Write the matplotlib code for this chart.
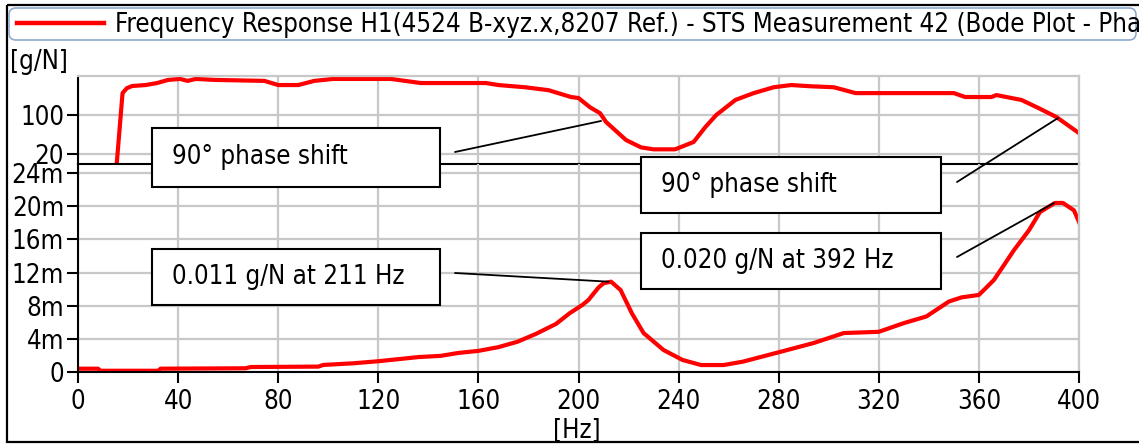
import matplotlib
matplotlib.use('Agg')
import matplotlib.pyplot as plt
from matplotlib import font_manager
from matplotlib.patches import Rectangle, FancyBboxPatch, ConnectionPatch
from matplotlib.lines import Line2D
from matplotlib.transforms import Affine2D

# phase curve (top panel)
phase_hz = [15.5, 17.8, 19.5, 21.6, 27, 31.6, 36, 40.8, 43.8, 47, 54.6, 74.5, 80, 88,
            94.4, 102, 125, 137, 163, 168, 178.6, 188, 197, 200, 204.6, 208.6, 211,
            219, 225, 230, 238.6, 246, 250.6, 255, 262.7, 270, 278, 285, 292.7, 302,
            310.7, 350, 354.5, 365, 367, 377, 384, 391, 399.5]
phase_deg = [2, 145, 155, 159.5, 161.5, 165.6, 172, 174, 170, 174, 172, 170, 161.5, 161.5,
             170, 174, 174, 165.6, 165.6, 161.5, 157, 151, 137, 135, 116, 104, 86,
             49, 34, 30, 30, 45, 75, 100, 131, 145, 157, 161.5, 159, 157,
             145, 145, 137, 137, 141, 131, 114, 96, 65]

# magnitude curve (bottom panel) in g/N
mag_hz = [0, 8, 9, 32, 33, 67, 69, 96, 98, 110, 120, 128, 136, 145, 152, 160, 168,
          175.6, 183, 191, 196.5, 201.6, 204, 208, 210, 213, 216.8, 221.3, 226, 234,
          241.6, 249, 258, 265.7, 279, 294, 306, 320, 330, 339, 348, 353, 360, 366,
          374, 380, 384.4, 390.4, 393.6, 398, 400]
mag_m = [0.4, 0.4, 0.15, 0.15, 0.4, 0.45, 0.6, 0.65, 0.85, 1.05, 1.3, 1.55, 1.8, 1.95,
         2.3, 2.55, 3.0, 3.65, 4.6, 5.8, 7.1, 8.1, 8.7, 10.2, 10.7, 10.9, 9.9, 7.1,
         4.7, 2.65, 1.45, 0.84, 0.84, 1.25, 2.3, 3.5, 4.7, 4.85, 5.9, 6.7, 8.5, 9.0,
         9.3, 11.1, 14.7, 17.1, 19.3, 20.4, 20.4, 19.5, 18.1]
mag = [v / 1000 for v in mag_m]

x_ticks = list(range(0, 401, 40))
phase_ticks = [20, 100]
mag_ticks = [0, 0.004, 0.008, 0.012, 0.016, 0.020, 0.024]
mag_labels = ['0', '4m', '8m', '12m', '16m', '20m', '24m']

legend_text = 'Frequency Response H1(4524 B-xyz.x,8207 Ref.) - STS Measurement 42 (Bode Plot - Pha'

# (text, axis, hz, value, box left/top/right/bottom in px, line start px)
notes = [
    ('90° phase shift', 'phase', 209, 88, (152, 128, 440, 187), (455, 152)),
    ('90° phase shift', 'phase', 391.6, 94, (641, 157, 941, 213), (957, 182)),
    ('0.011 g/N at 211 Hz', 'mag', 212, 0.0109, (152, 249, 440, 305), (455, 273)),
    ('0.020 g/N at 392 Hz', 'mag', 390, 0.0204, (641, 233, 941, 289), (957, 257)),
]

# font: condensed DejaVu is closest to the original if present
cond = font_manager.findfont(font_manager.FontProperties(family='DejaVu Sans', stretch='condensed'))
if 'Condensed' in cond:
    plt.rcParams['font.stretch'] = 'condensed'
    fs = 18.5
else:
    fs = 16.5
plt.rcParams['font.family'] = ['DejaVu Sans']

W, H = 1139, 444
fig = plt.figure(figsize=(W / 100, H / 100), dpi=100)
# pixel coords measured from the top-left corner
pix = Affine2D().scale(1, -1).translate(0, H).scale(1 / 100) + fig.dpi_scale_trans

left, right = 78, 1079
ax_ph = fig.add_axes([left / W, 1 - 164 / H, (right - left) / W, (164 - 76) / H])
ax_mag = fig.add_axes([left / W, 1 - 372 / H, (right - left) / W, (372 - 164) / H])

grid_c = '#c8c8c8'
for ax in (ax_ph, ax_mag):
    ax.set_facecolor('none')
    ax.set_xlim(0, 400)
    ax.set_xticks(x_ticks)
    ax.grid(True, color=grid_c, lw=1.6)
    ax.set_axisbelow(True)
    ax.spines['left'].set_color('black')
    ax.spines['left'].set_linewidth(1.5)
    ax.spines['bottom'].set_color('black')
    ax.spines['bottom'].set_linewidth(1.5)
    ax.spines['right'].set_color(grid_c)
    ax.spines['right'].set_linewidth(1.6)
    ax.tick_params(axis='both', direction='out', length=8, width=1.5,
                   labelsize=fs, pad=2, colors='black')

ax_ph.plot(phase_hz, phase_deg, color='red', lw=3, solid_joinstyle='round')
ax_ph.set_ylim(0, 180)
ax_ph.set_yticks(phase_ticks)
ax_ph.spines['top'].set_color(grid_c)
ax_ph.spines['top'].set_linewidth(1.6)
ax_ph.tick_params(axis='x', length=0, labelbottom=False)

ax_mag.plot(mag_hz, mag, color='red', lw=3, solid_joinstyle='round')
ax_mag.set_ylim(0, 0.0251)
ax_mag.set_yticks(mag_ticks)
ax_mag.set_yticklabels(mag_labels)
ax_mag.spines['top'].set_visible(False)
ax_mag.tick_params(axis='x', pad=4)

# outer frame
fig.add_artist(Rectangle((7, 5), 1140, 437.5, transform=pix, fill=False,
                         edgecolor='black', lw=1.6))

# legend
leg = FancyBboxPatch((9, 8), 1127, 32, boxstyle='round,pad=0,rounding_size=7',
                     transform=pix, facecolor='white', edgecolor='#8eaad0', lw=1.2)
fig.add_artist(leg)
fig.add_artist(Line2D([17, 104], [23, 23], transform=pix, color='red', lw=3.2))
t = fig.text(115, 25, legend_text, transform=pix, fontsize=fs, va='center', ha='left')
t.set_clip_path(leg)

fig.text(10, 62, '[g/N]', transform=pix, fontsize=fs, va='center', ha='left')
fig.text(577, 431, '[Hz]', transform=pix, fontsize=fs, va='center', ha='center')

# annotation boxes with leader lines
for label, which, hz, val, box, start in notes:
    ax = ax_ph if which == 'phase' else ax_mag
    x0, y0, x1, y1 = box
    con = ConnectionPatch(xyA=start, coordsA=pix, xyB=(hz, val), coordsB=ax.transData,
                          color='black', lw=1.3)
    fig.add_artist(con)
    fig.add_artist(Rectangle((x0, y0), x1 - x0, y1 - y0, transform=pix,
                             facecolor='white', edgecolor='black', lw=1.5, zorder=3))
    fig.text(x0 + 20, (y0 + y1) / 2, label, transform=pix, fontsize=fs,
             va='center', ha='left', zorder=4)

fig.savefig('out.png', dpi=100)
